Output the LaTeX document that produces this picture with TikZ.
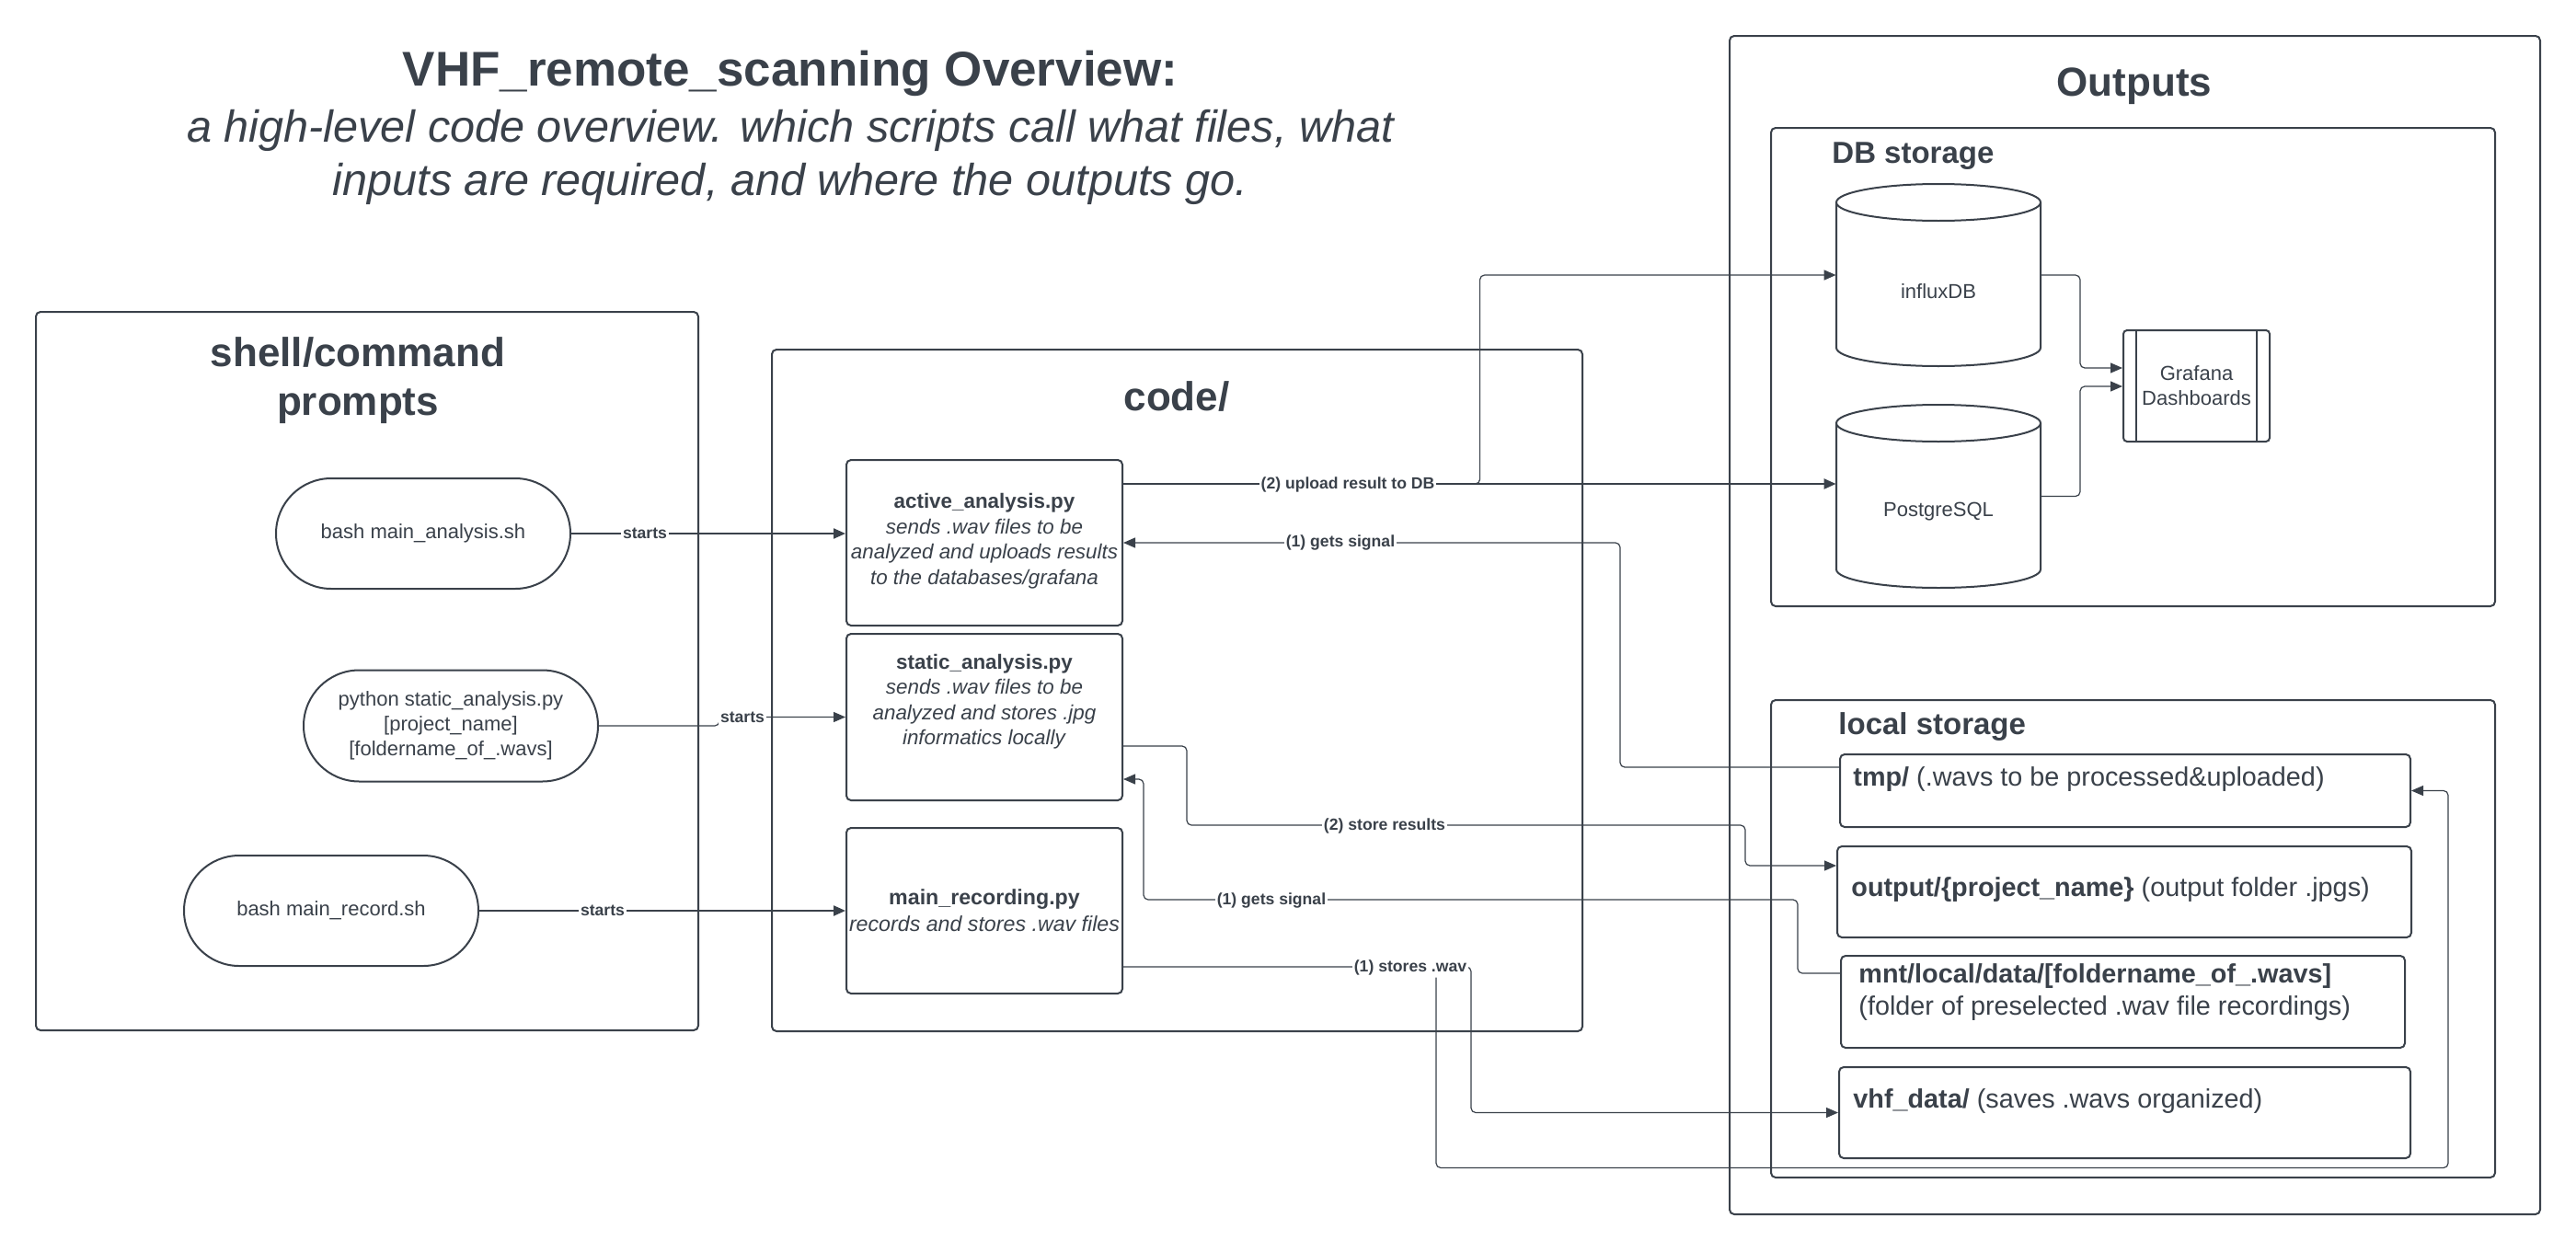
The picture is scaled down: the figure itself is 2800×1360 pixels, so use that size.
\documentclass[tikz,border=0pt]{standalone}
\usepackage{fontspec}
\setmainfont{Liberation Sans}
\usetikzlibrary{arrows.meta,shapes.misc,calc}
\definecolor{ink}{HTML}{3A414A}
\newcommand\myfs[2]{\fontsize{#1}{#2}\selectfont}
\begin{document}
\begin{tikzpicture}[x=0.5pt,y=-0.5pt,
  font=\myfs{11}{13.5},
  every node/.append style={text=ink},
  container/.style={draw=ink, line width=1pt, rounded corners=2.5pt, rectangle, inner sep=0pt},
  ctitle/.style={font=\bfseries\myfs{22}{26.5}, align=center},
  subhead/.style={font=\bfseries\myfs{16.5}{20}, inner sep=0pt},
  stadium/.style={draw=ink, line width=1pt, rounded rectangle, minimum width=160pt, minimum height=60pt, align=center, inner sep=0pt, fill=white},
  codebox/.style={draw=ink, line width=1pt, rounded corners=2.5pt, minimum width=150pt, minimum height=90pt, inner sep=0pt},
  codetext/.style={font=\myfs{11.2}{13.75}, align=center},
  store/.style={draw=ink, line width=1pt, rounded corners=2.5pt, inner sep=0pt},
  storetext/.style={font=\myfs{14.4}{17.5}, align=left, anchor=west, inner sep=0pt},
  cyl/.style={draw=ink, line width=1pt, fill=white},
  cylnode/.style={minimum width=111pt, inner sep=0pt},
  conn/.style={draw=ink, line width=0.6pt, rounded corners=2.5pt, -{Triangle[length=6.5pt,width=5.5pt]}},
  connthick/.style={conn, line width=1.1pt},
  lbl/.style={fill=white, inner sep=1pt, font=\bfseries\myfs{8.8}{10}}
]
\fill[white] (0,0) rectangle (2800,1360);
\useasboundingbox (0,0) rectangle (2800,1360);

% title
\node[font=\bfseries\myfs{26.5}{30}] (title) at (859,80) {VHF\_remote\_scanning Overview:};
\node[font=\itshape\myfs{24.3}{29}, align=center] (subtitle) at (859,171) {a high-level code overview. which scripts call what files, what\\inputs are required, and where the outputs go.};

% containers
\node[container, minimum width=360pt, minimum height=390.5pt] (shell) at (399,729.5) {};
\node[ctitle] (shelltitle) at (389,414) {shell/command\\prompts};
\node[container, minimum width=440.5pt, minimum height=370.5pt] (code) at (1279.5,750.5) {};
\node[ctitle] (codetitle) at (1279,431) {code/};
\node[container, minimum width=440.5pt, minimum height=640.5pt] (outputs) at (2320.5,679.5) {};
\node[ctitle] (outtitle) at (2320,94) {Outputs};
\node[container, minimum width=393.5pt, minimum height=260pt] (dbst) at (2318.5,399) {};
\node[subhead, anchor=west] (dbtitle) at (1991,170) {DB storage};
\node[container, minimum width=393.5pt, minimum height=259.5pt] (locst) at (2318.5,1020.5) {};
\node[subhead, anchor=west] (loctitle) at (1998,790) {local storage};

% shell nodes
\node[stadium] (st1) at (460,580) {bash main\_analysis.sh};
\node[stadium, minimum height=60.5pt] (st2) at (490,789) {python static\_analysis.py\\{}[project\_name]\\{}[foldername\_of\_.wavs]};
\node[stadium] (st3) at (360,990) {bash main\_record.sh};

% code boxes
\node[codebox] (active) at (1070,590) {};
\node[codetext] (activetxt) at (1070,588) {\textbf{active\_analysis.py}\\\textit{sends .wav files to be}\\\textit{analyzed and uploads results}\\\textit{to the databases/grafana}};
\node[codebox, minimum height=90.5pt] (static) at (1070,779.5) {};
\node[codetext] (statictxt) at (1070,762.5) {\textbf{static\_analysis.py}\\\textit{sends .wav files to be}\\\textit{analyzed and stores .jpg}\\\textit{informatics locally}};
\node[codebox] (mainrec) at (1070,990) {};
\node[codetext, font=\myfs{11.6}{14.5}] (mainrectxt) at (1070,990) {\textbf{main\_recording.py}\\\textit{records and stores .wav files}};

% DB cylinders
\draw[cyl] (1996,220) -- (1996,378) arc[start angle=180,end angle=360,x radius=55.5pt,y radius=10pt] -- (2218,220);
\draw[cyl] (2107,220) ellipse [x radius=55.5pt, y radius=10pt];
\node[cylnode, minimum height=99pt] (influx) at (2107,299) {};
\node (influxtxt) at (2107,317) {influxDB};
\draw[cyl] (1996,460) -- (1996,619) arc[start angle=180,end angle=360,x radius=55.5pt,y radius=10pt] -- (2218,460);
\draw[cyl] (2107,460) ellipse [x radius=55.5pt, y radius=10pt];
\node[cylnode, minimum height=99.5pt] (postgres) at (2107,539.5) {};
\node (postgrestxt) at (2107,556) {PostgreSQL};

% Grafana
\node[draw=ink, line width=1pt, rounded corners=2pt, minimum width=79.5pt, minimum height=60.5pt, inner sep=0pt, align=center] (grafana) at (2387.5,419.5) {Grafana\\Dashboards};
\draw[ink, line width=1pt] ($(grafana.north west)+(15,0)$) -- ($(grafana.south west)+(15,0)$);
\draw[ink, line width=1pt] ($(grafana.north east)+(-15,0)$) -- ($(grafana.south east)+(-15,0)$);

% local storage boxes
\node[store, minimum width=310pt, minimum height=39.5pt] (tmp) at (2310,859.5) {};
\node[storetext] (tmptxt) at (2014,847) {\textbf{tmp/} (.wavs to be processed\&uploaded)};
\node[store, minimum width=312pt, minimum height=49.5pt] (outp) at (2309,969.5) {};
\node[storetext] (outptxt) at (2012,967) {\textbf{output/\{project\_name\}} (output folder .jpgs)};
\node[store, minimum width=306.5pt, minimum height=50pt] (mnt) at (2307.5,1089) {};
\node[storetext] (mnttxt) at (2020,1078.5) {\textbf{mnt/local/data/[foldername\_of\_.wavs]}\\(folder of preselected .wav file recordings)};
\node[store, minimum width=310.5pt, minimum height=49.5pt] (vhf) at (2309.5,1209.5) {};
\node[storetext] (vhftxt) at (2014,1197) {\textbf{vhf\_data/} (saves .wavs organized)};

% connectors shell -> code
\draw[connthick] (st1.east) -- (st1.east -| active.west);
\node[lbl] (l1) at (701,580) {starts};
\draw[conn] (st2.east) -- ++(131,0) |- (static.west);
\node[lbl] (l2) at (807,780) {starts};
\draw[connthick] (st3.east) -- (mainrec.west);
\node[lbl] (l3) at (655,990) {starts};

% upload
\coordinate (upstart) at ($(active.north east)+(0,27)$);
\draw[connthick] (upstart) -- (upstart -| postgres.west);
\draw[conn] (upstart) -| ($(influx.west)+(-387,0)$) -- (influx.west);
\node[lbl] (l4) at (1465,527) {(2) upload result to DB};

% gets signal (active)
\draw[conn] ($(tmp.north west)+(0,15)$) -| ($(active.east)+(540,0)$) -- (active.east);
\node[lbl] (l5) at (1457,590) {(1) gets signal};

% store results
\draw[conn] ($(static.north east)+(0,123)$) -| ($(static.north east)+(69,209)$) -| ($(outp.north west)+(-99,22)$) -- ($(outp.north west)+(0,22)$);
\node[lbl] (l6) at (1505,898) {(2) store results};

% gets signal (static)
\draw[conn] ($(mnt.north west)+(0,20)$) -| ($(mnt.north west)+(-46,-60)$) -| ($(static.north east)+(22,159)$) -- ($(static.north east)+(0,159)$);
\node[lbl] (l7) at (1382,979) {(1) gets signal};

% stores wav
\draw[conn] ($(mainrec.north east)+(0,152)$) -| ($(vhf.west)+(-399,0)$) -- (vhf.west);
\node[lbl] (l8) at (1533,1052) {(1) stores .wav};
\draw[conn] ($(l8.south)+(28,0)$) |- ($(tmp.east)+(40,410)$) |- (tmp.east);

% DB -> Grafana
\draw[conn] (influx.east) -| ($(grafana.west)+(-46,-19.5)$) -- ($(grafana.west)+(0,-19.5)$);
\draw[conn] (postgres.east) -| ($(grafana.west)+(-46,0.5)$) -- ($(grafana.west)+(0,0.5)$);
\end{tikzpicture}
\end{document}
